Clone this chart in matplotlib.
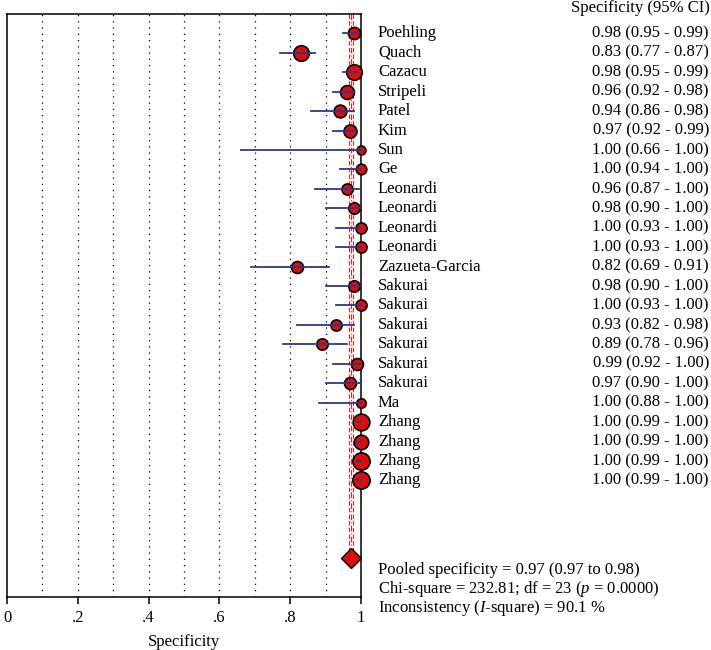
import matplotlib.pyplot as plt
from matplotlib.transforms import blended_transform_factory

plt.rcParams['font.family'] = ['Liberation Serif', 'DejaVu Serif']
plt.rcParams['mathtext.fontset'] = 'custom'
plt.rcParams['mathtext.it'] = 'Liberation Serif:italic'
plt.rcParams['mathtext.rm'] = 'Liberation Serif'

studies = ["Poehling", "Quach", "Cazacu", "Stripeli", "Patel", "Kim", "Sun", "Ge",
           "Leonardi", "Leonardi", "Leonardi", "Leonardi", "Zazueta-Garcia",
           "Sakurai", "Sakurai", "Sakurai", "Sakurai", "Sakurai", "Sakurai", "Ma",
           "Zhang", "Zhang", "Zhang", "Zhang"]
spec = [0.98, 0.83, 0.98, 0.96, 0.94, 0.97, 1.00, 1.00, 0.96, 0.98, 1.00, 1.00, 0.82,
        0.98, 1.00, 0.93, 0.89, 0.99, 0.97, 1.00, 1.00, 1.00, 1.00, 1.00]
lower = [0.95, 0.77, 0.95, 0.92, 0.86, 0.92, 0.66, 0.94, 0.87, 0.90, 0.93, 0.93, 0.69,
         0.90, 0.93, 0.82, 0.78, 0.92, 0.90, 0.88, 0.99, 0.99, 0.99, 0.99]
upper = [0.99, 0.87, 0.99, 0.98, 0.98, 0.99, 1.00, 1.00, 1.00, 1.00, 1.00, 1.00, 0.91,
         1.00, 1.00, 0.98, 0.96, 1.00, 1.00, 1.00, 1.00, 1.00, 1.00, 1.00]
# relative study weights (drive marker size)
weights = [4.4, 5.6, 5.6, 5.0, 4.6, 4.7, 3.2, 3.8, 4.0, 4.1, 4.0, 4.0, 4.3,
           4.1, 4.0, 4.0, 4.1, 4.3, 4.3, 3.4, 6.0, 5.2, 6.2, 6.2]

pooled = 0.97
pooled_lo = 0.966
pooled_hi = 0.977
chi2 = 232.81
df = 23
i2 = 90.1

fig = plt.figure(figsize=(7.11, 6.5), dpi=100)
ax = fig.add_axes([7 / 711, 1 - 597 / 650, 354 / 711, 583 / 650])
ax.set_xlim(0, 1)
ax.set_ylim(29, -1)

for g in [0.1, 0.2, 0.3, 0.4, 0.5, 0.6, 0.7, 0.8, 0.9]:
    ax.axvline(g, color='black', ls=(0, (1, 4)), lw=0.9, zorder=0)

diamond_y = len(studies) + 3
ax.vlines([pooled_lo, pooled_hi], -1, diamond_y - 0.4, colors='#ff1a1a',
          linestyles=(0, (4, 2)), lw=0.8, zorder=1)
ax.vlines([(pooled_lo + pooled_hi) / 2], -1, diamond_y - 0.4, colors='#ff1a1a',
          linestyles=(0, (5, 2, 1, 2)), lw=0.8, zorder=1)

for i in range(len(studies)):
    ax.plot(spec[i], i, 'o', ms=weights[i] * 2.0, mfc='#d80f0f', mec='black',
            mew=1.2, clip_on=False, zorder=3)
    ax.plot([lower[i], upper[i]], [i, i], color='#2a3a80', lw=1.3,
            clip_on=False, zorder=4)

ax.plot((pooled_lo + pooled_hi) / 2, diamond_y, 'D', ms=10, mfc='#d80f0f',
        mec='black', mew=1.0, clip_on=False, zorder=3)

for s in ['left', 'right', 'top', 'bottom']:
    ax.spines[s].set_linewidth(1.1)

ax.set_yticks([])
ax.set_xticks([0, 0.2, 0.4, 0.6, 0.8, 1])
ax.set_xticklabels(['0', '.2', '.4', '.6', '.8', '1'], fontsize=12)
ax.tick_params(axis='x', direction='out', length=5, width=1.1, pad=4)
ax.set_xlabel('Specificity', fontsize=12, labelpad=6)

tr = blended_transform_factory(fig.transFigure, ax.transData)
name_x = 378 / 711
val_x = 709 / 711
for i in range(len(studies)):
    ax.text(name_x, i, studies[i], transform=tr, fontsize=12, va='center', ha='left')
    ax.text(val_x, i, f"{spec[i]:.2f} ({lower[i]:.2f} - {upper[i]:.2f})",
            transform=tr, fontsize=12, va='center', ha='right')

fig.text(710 / 711, 1 - 8 / 650, 'Specificity (95% CI)', fontsize=12,
         va='center', ha='right')

fig.text(name_x, 1 - 570 / 650,
         f"Pooled specificity = {pooled:.2f} ({pooled:.2f} to {0.98:.2f})",
         fontsize=12, va='center')
fig.text(name_x, 1 - 589 / 650,
         f"Chi-square = {chi2:.2f}; df = {df} ($\\it{{p}}$ = 0.0000)",
         fontsize=12, va='center')
fig.text(name_x, 1 - 608 / 650,
         f"Inconsistency ($\\it{{I}}$-square) = {i2} %",
         fontsize=12, va='center')

fig.savefig('out.png', dpi=100)
